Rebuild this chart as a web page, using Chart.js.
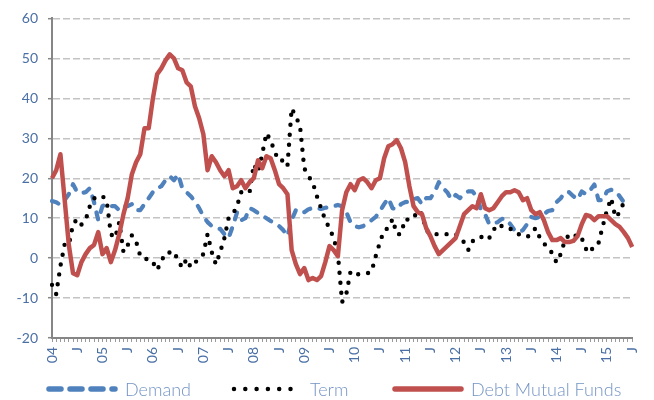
<!DOCTYPE html>
<html>
<head>
<meta charset="utf-8">
<script src="https://cdn.jsdelivr.net/npm/chart.js@4.4.1/dist/chart.umd.min.js"></script>
<style>
  html, body { margin: 0; padding: 0; background: #fff; overflow: hidden; }
  .wrap { position: relative; width: 654px; height: 400px; }
  canvas { display: block; }
  .legend-item { position: absolute; top: 378px; height: 22px; display: flex; align-items: center;
    font-family: Lato, sans-serif; font-weight: 300; font-size: 18px; color: #7393c4; white-space: nowrap; }
  .legend-item svg { display: block; margin-right: 7px; }
</style>
</head>
<body>
<div class="wrap">
  <canvas id="chart" width="654" height="400"></canvas>
  <div id="legend"></div>
</div>
<script>
// Monthly series, Jan 2004 - Jul 2015 (139 months)
const years = ['04', '05', '06', '07', '08', '09', '10', '11', '12', '13', '14', '15'];
const midYearLabel = 'J';

const demand = [
  14.3, 14, 13.3, 14.5, 16, 18.5, 16.5, 16.3, 16.5, 17.5,
  14, 9.5, 13, 13.5, 13, 13, 12, 13, 13, 13.5,
  12, 12, 13.5, 15, 16.5, 17.5, 18, 19.5, 20.5, 19.5,
  21, 17.5, 16.5, 15.5, 14.2, 12.5, 10.5, 9, 8, 7.5,
  7.3, 6, 5, 8, 11.4, 9.5, 10, 12.5, 12, 11.3,
  10.6, 10, 9.3, 8.6, 8, 7, 5.5, 9.5, 12, 11.3,
  11.5, 12.2, 12.6, 12.5, 12.3, 12.6, 12.8, 13, 13.3, 13,
  11.5, 9, 8, 7.7, 8, 8.7, 9.5, 10.3, 11.8, 13.5,
  15, 12.5, 12.2, 13.5, 14, 14.2, 14.8, 15, 13.5, 15,
  15, 16.5, 19, 17.5, 16.5, 14.7, 15.8, 15, 16, 16.7,
  16.7, 15.5, 12.2, 11, 8.5, 8.7, 9, 9.8, 9.8, 8.5,
  7, 6.5, 7, 8.5, 10.3, 10, 10.3, 11, 11.8, 12,
  14, 15, 16.5, 16.5, 15.5, 14.7, 16.7, 16, 17, 18.4,
  14.5, 14.5, 16.7, 17.1, 16.8, 15.5, 14, null, null
];

const term = [
  -6.7, -9, -2, 3.4, 3.2, 8.5, 9.8, 8.4, 9.5, 13,
  15, 14.9, 15.5, 14.5, 6, 5, 9, 1.5, 3.2, 5.7,
  4.2, 0.5, -0.3, -0.1, -1, -3, -0.8, 1.3, 1.4, 1.7,
  -0.7, -2.4, -0.2, -2.3, -1.2, 0, 1, 6, 1.5, -1.6,
  1.5, 5, 10, 11, 13, 16.5, 16.2, 16.5, 23.5, 21.5,
  26, 31.3, 29.5, 26.5, 24.3, 24.5, 23, 37.5, 35.5, 33,
  22.5, 20.5, 19, 15.5, 12.5, 9.5, 7.5, 5, 1, -11,
  -9, -3.4, -4.2, -4, -4, -3.8, -3.4, 0.5, 4, 7,
  7.5, 9.8, 6, 6, 9.8, 9.5, 10, 12, 11, 7,
  6, 6, 6, 6, 6, 6, 6, 5, 4, 2,
  4.2, 5, 5.4, 4.5, 5, 7, 8.5, 8, 7.3, 7.3,
  7, 6, 5.5, 5.3, 6, 7.5, 5.2, 3.7, 2.5, 1.2,
  -1.1, 1, 4.5, 5.8, 5.2, 6, 5, 2.3, 1.3, 3.4,
  3.8, 8, 12, 15, 10.2, 11.4, 14, 14, null
];

const debtFunds = [
  20, 22, 26, 14.7, 3.3, -3.8, -4.3, -1, 1, 2.5,
  3.3, 6.5, 1, 2.5, -1, 2, 6, 11, 15, 21,
  24, 26, 32.5, 32.5, 40, 46, 47.5, 49.5, 51, 50,
  47.5, 47, 44, 43, 38, 35, 31, 22, 25.5, 24,
  22, 20.5, 22, 17.5, 18, 19.5, 17.5, 19, 20, 24.5,
  22.5, 25.5, 25, 22, 18.5, 17.5, 16, 2, -1.5, -4,
  -2.5, -5.5, -5, -5.5, -4.5, -1, 3, 2, 0.5, 12,
  16.5, 18.5, 17, 19.5, 20, 19, 17.5, 19.5, 20, 25,
  28, 28.5, 29.5, 27.5, 24, 18, 13, 11.5, 11, 7.5,
  5.5, 3, 1, 2, 3, 4, 5, 8, 11, 12,
  13, 12.5, 16, 12.5, 12, 12.5, 14, 15.5, 16.5, 16.5,
  17, 16.5, 14.5, 15, 12, 11, 11.5, 9.5, 6.5, 4.5,
  4.5, 5, 4, 4, 4.3, 5.5, 8.5, 10.8, 10.5, 9.5,
  10.5, 10.5, 10.5, 9.5, 8.5, 7.8, 6.5, 5, 2.8
];

// ---- CATEGORY LABELS (year at January, "J" at July, blank otherwise) ----
const categories = [];
years.forEach(y => {
  for (let m = 0; m < 12; m++) categories.push(m === 0 ? y : (m === 6 ? midYearLabel : ''));
});
categories.length = debtFunds.length;

const axisTextColor = '#4a6fa5';
const axisLineColor = '#868686';

const series = [
  { label: 'Demand', data: demand, color: '#4f81bd', width: 4.2, dash: [7, 9.5], cap: 'round',
    legendWidth: 5.5, legendDash: [12, 9], legendLeft: 46, order: 3 },
  { label: 'Term', data: term, color: '#000000', width: 4.4, dash: [0, 10], cap: 'round',
    legendWidth: 4.5, legendDash: [0, 11.3], legendLeft: 231, order: 2 },
  { label: 'Debt Mutual Funds', data: debtFunds, color: '#c0504d', width: 4.5, dash: [], cap: 'butt',
    legendWidth: 5.5, legendDash: [], legendLeft: 392, order: 1 }
];

// ---- LEGEND (HTML, below the axis) ----
document.getElementById('legend').innerHTML = series.map(s => `
  <div class="legend-item" style="left:${s.legendLeft}px">
    <svg width="72" height="10"><line x1="3" y1="5" x2="69" y2="5" stroke="${s.color}"
      stroke-width="${s.legendWidth}" stroke-linecap="round"
      stroke-dasharray="${s.legendDash.join(' ') || 'none'}"/></svg>
    <span>${s.label}</span>
  </div>`).join('');

new Chart(document.getElementById('chart'), {
  type: 'line',
  data: {
    labels: categories,
    datasets: series.map(s => ({
      label: s.label,
      data: s.data,
      borderColor: s.color,
      backgroundColor: s.color,
      borderWidth: s.width,
      borderDash: s.dash,
      borderCapStyle: s.cap,
      borderJoinStyle: 'round',
      order: s.order
    }))
  },
  options: {
    responsive: false,
    animation: false,
    elements: {
      point: { radius: 0, hoverRadius: 0 },
      line: { tension: 0, fill: false }
    },
    layout: { padding: { left: 4, right: 14, top: 13.5, bottom: 32 } },
    plugins: {
      tooltip: { enabled: false },
      legend: { display: false }
    },
    scales: {
      x: {
        afterFit: scale => { scale.height = 30; },
        grid: { drawOnChartArea: false, tickLength: 4, tickColor: '#9a9a9a', tickWidth: 1 },
        border: { color: axisLineColor, width: 2 },
        ticks: {
          autoSkip: false,
          minRotation: 90,
          maxRotation: 90,
          padding: 5,
          color: axisTextColor,
          font: { family: 'Lato', size: 14 }
        }
      },
      y: {
        min: -20,
        max: 60,
        afterFit: scale => { scale.width = 48; },
        grid: {
          color: ctx => (ctx.tick && ctx.tick.value === -20) ? 'rgba(0,0,0,0)' : '#c3c3c3',
          lineWidth: 1.4,
          tickLength: 4,
          tickColor: axisLineColor,
          tickWidth: 1.5,
          tickBorderDash: []
        },
        border: { color: axisLineColor, width: 2, dash: [7, 3] },
        ticks: {
          stepSize: 10,
          padding: 10,
          color: axisTextColor,
          font: { family: 'Lato', size: 14 }
        }
      }
    }
  }
});
</script>
</body>
</html>
